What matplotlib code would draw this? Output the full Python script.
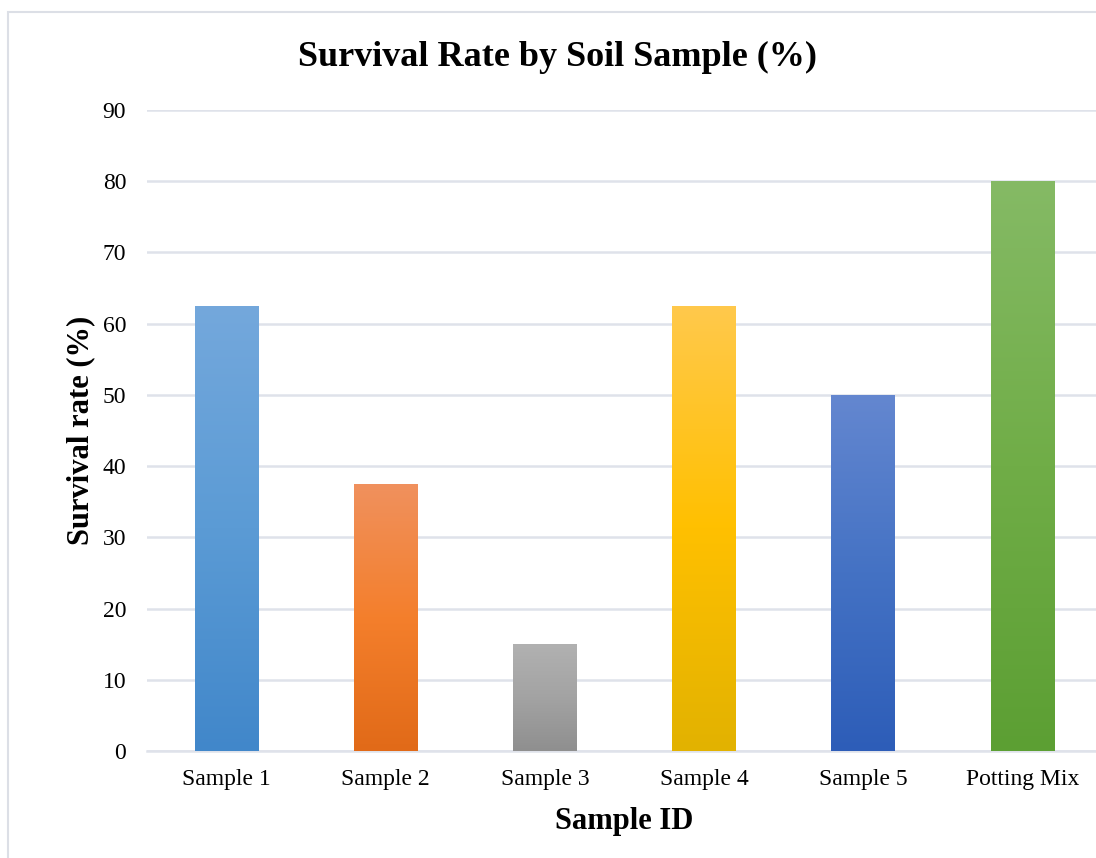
import numpy as np
import matplotlib
matplotlib.use("Agg")
from matplotlib import pyplot as plt
from matplotlib.colors import LinearSegmentedColormap
from matplotlib.patches import Rectangle

# data
samples = ["Sample 1", "Sample 2", "Sample 3", "Sample 4", "Sample 5", "Potting Mix"]
survival = [62.5, 37.5, 15, 62.5, 50, 80]
yticks = [0, 10, 20, 30, 40, 50, 60, 70, 80, 90]

# gradient colours (top, middle, bottom) like the excel fill
grads = [
    ("#74a8dc", "#5b9bd5", "#4187ca"),
    ("#f0915e", "#f47f2c", "#e16a18"),
    ("#b1b1b1", "#a3a3a3", "#8f8f8f"),
    ("#ffc94c", "#ffc000", "#e2b200"),
    ("#6487d0", "#4472c4", "#2d5db8"),
    ("#85ba65", "#70ad47", "#5c9f33"),
]

plt.rcParams["font.family"] = ["Liberation Serif", "DejaVu Serif"]

fig = plt.figure(figsize=(10.96, 8.58), dpi=100)
ax = fig.add_axes([147 / 1096, 107 / 858, 955 / 1096, 641 / 858])

# chart border (light grey box, cut off at right/bottom)
fig.patches.append(Rectangle((8 / 1096, -0.1), 1.2, (858 - 12) / 858 + 0.1,
                             transform=fig.transFigure, fill=False,
                             edgecolor="#dcdfe6", linewidth=1.5, zorder=0))

x = np.arange(len(samples))
width = 0.4
grad = np.linspace(0, 1, 256).reshape(-1, 1)
for i, v in enumerate(survival):
    cmap = LinearSegmentedColormap.from_list("g%d" % i, list(grads[i]))
    bar = ax.bar(x[i], v, width, color="none", edgecolor="none", zorder=3)[0]
    im = ax.imshow(grad, cmap=cmap, aspect="auto", zorder=3,
                   extent=(x[i] - width / 2, x[i] + width / 2, 0, v), origin="upper")
    im.set_clip_path(bar)

ax.set_xlim(-0.5, len(samples) - 0.5)
ax.set_ylim(0, 90)
ax.set_yticks(yticks)
ax.set_xticks(x)
ax.set_xticklabels(samples)
ax.tick_params(axis="both", length=0, labelsize=17)
ax.tick_params(axis="y", pad=15)
ax.tick_params(axis="x", pad=13)
ax.grid(axis="y", color="#dfe2ea", linewidth=1.8, zorder=0)
ax.set_axisbelow(True)
for s in ["top", "right", "left"]:
    ax.spines[s].set_visible(False)
ax.spines["bottom"].set_color("#dfe2ea")
ax.spines["bottom"].set_linewidth(1.8)

ax.set_ylabel("Survival rate (%)", fontsize=22, fontweight="bold", labelpad=5)
ax.set_xlabel("Sample ID", fontsize=22, fontweight="bold", labelpad=12)
fig.text(557 / 1096, 1 - 57 / 858, "Survival Rate by Soil Sample (%)", ha="center", va="center",
         fontsize=26, fontweight="bold")

fig.savefig("out.png", dpi=100)
